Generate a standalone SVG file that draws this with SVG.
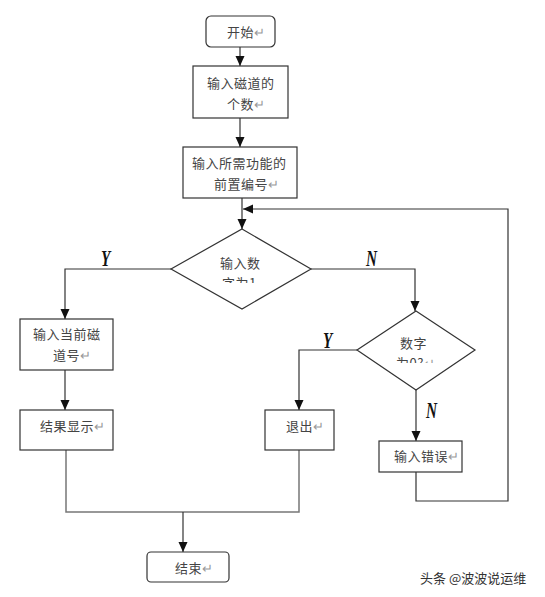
<svg xmlns="http://www.w3.org/2000/svg" width="545" height="597" viewBox="0 0 545 597">
<style>
.box{fill:#fff;stroke:#333;stroke-width:1.2}
.ln{fill:none;stroke:#333;stroke-width:1.2}
.lg{fill:none;stroke:#777;stroke-width:1.5}
.t{font-family:"Noto Sans CJK SC","Noto Sans",sans-serif;font-size:13px;fill:#444;letter-spacing:0.5px}
.rt{fill:#999}
.yn{font-family:"Liberation Serif",serif;font-style:italic;font-weight:bold;font-size:18px;fill:#111}
.wm{font-family:"Noto Sans CJK SC",sans-serif;font-size:13px;fill:#333}
</style>
<defs>
<marker id="ah" markerWidth="12" markerHeight="12" refX="10" refY="5.5" orient="auto" markerUnits="userSpaceOnUse">
<path d="M0,1 L10,5.5 L0,10 Z" fill="#111"/>
</marker>
<clipPath id="c1"><rect x="200" y="270" width="90" height="13"/></clipPath>
<clipPath id="c2"><rect x="370" y="350" width="90" height="13"/></clipPath>
</defs>
<g id="connectors">
<line class="ln" x1="240" y1="47" x2="240" y2="66" marker-end="url(#ah)"/>
<line class="ln" x1="240" y1="118" x2="240" y2="147" marker-end="url(#ah)"/>
<line class="ln" x1="242" y1="198" x2="242" y2="229" marker-end="url(#ah)"/>
<polyline class="ln" points="416,472 416,501 508,501 508,209 243,209" marker-end="url(#ah)"/>
<polyline class="ln" points="171,269 65,269 65,319" marker-end="url(#ah)"/>
<polyline class="ln" points="311,269 415,269 415,311" marker-end="url(#ah)"/>
<line class="ln" x1="65" y1="370" x2="65" y2="410" marker-end="url(#ah)"/>
<polyline class="ln" points="357,350 299,350 299,410" marker-end="url(#ah)"/>
<line class="ln" x1="416" y1="390" x2="416" y2="441" marker-end="url(#ah)"/>
<polyline class="lg" points="66,450 66,512 299,512 299,450"/>
<line class="ln" x1="183" y1="512" x2="183" y2="552" marker-end="url(#ah)"/>
<text class="yn" transform="translate(101,266) scale(0.85,1.3)">Y</text>
<text class="yn" transform="translate(366,266) scale(0.85,1.3)">N</text>
<text class="yn" transform="translate(323,348) scale(0.85,1.3)">Y</text>
<text class="yn" transform="translate(426,418) scale(0.85,1.3)">N</text>
</g>
<g id="start">
<rect class="box" x="206" y="16" width="69" height="31" rx="5"/>
<text class="t" x="227" y="37">开始<tspan class="rt">↵</tspan></text>
</g>
<g id="n-input-tracks">
<rect class="box" x="193" y="66" width="95" height="52"/>
<text class="t" x="207" y="88">输入磁道的</text>
<text class="t" x="227" y="109">个数<tspan class="rt">↵</tspan></text>
</g>
<g id="n-input-func">
<rect class="box" x="183" y="147" width="114" height="51"/>
<text class="t" x="192" y="168">输入所需功能的</text>
<text class="t" x="214" y="189">前置编号<tspan class="rt">↵</tspan></text>
</g>
<g id="d-is1">
<polygon class="box" points="242,229 311,269 242,309 171,269"/>
<text class="t" x="220" y="268">输入数</text>
<text class="t" x="222" y="288" clip-path="url(#c1)">字为1</text>
</g>
<g id="d-is0">
<polygon class="box" points="416,311 475,350 416,390 357,350"/>
<text class="t" x="400" y="348">数字</text>
<text class="t" x="396" y="368" clip-path="url(#c2)">为0?<tspan class="rt">↵</tspan></text>
</g>
<g id="n-input-cur">
<rect class="box" x="20" y="319" width="93" height="51"/>
<text class="t" x="33" y="339">输入当前磁</text>
<text class="t" x="53" y="360">道号<tspan class="rt">↵</tspan></text>
</g>
<g id="n-result">
<rect class="box" x="20" y="410" width="93" height="40"/>
<text class="t" x="40" y="431">结果显示<tspan class="rt">↵</tspan></text>
</g>
<g id="n-exit">
<rect class="box" x="265" y="410" width="69" height="40"/>
<text class="t" x="286" y="431">退出<tspan class="rt">↵</tspan></text>
</g>
<g id="n-error">
<rect class="box" x="379" y="441" width="83" height="31"/>
<text class="t" x="394" y="461">输入错误<tspan class="rt">↵</tspan></text>
</g>
<g id="end">
<rect class="box" x="147" y="552" width="82" height="30" rx="4"/>
<text class="t" x="175" y="573">结束<tspan class="rt">↵</tspan></text>
</g>
<text class="wm" x="420" y="583">头条 @波波说运维</text>
</svg>
